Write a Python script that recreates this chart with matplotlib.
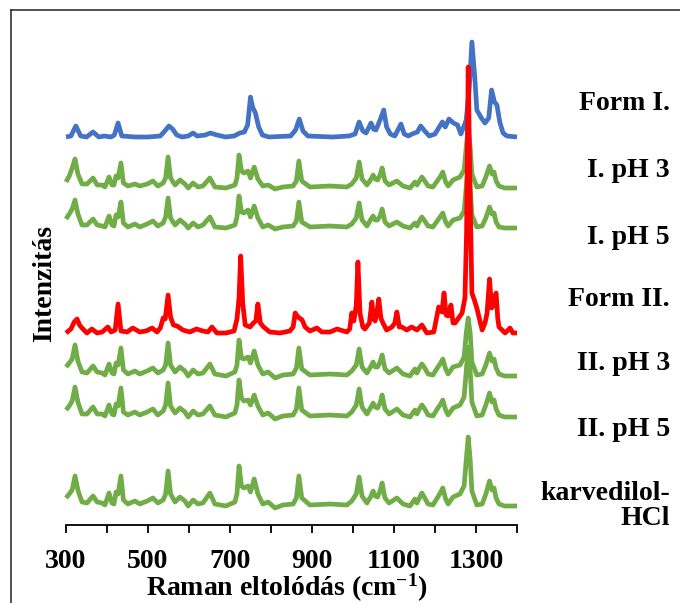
import matplotlib
matplotlib.use('Agg')
import matplotlib.pyplot as plt
from matplotlib.lines import Line2D

# Raman spectra (intensity above each baseline, arbitrary units)
FORM1_WN = [300, 312, 324, 336, 350, 366, 380, 393, 410, 418, 427, 436, 470, 500, 530,
            541, 551, 560, 570, 583, 598, 610, 620, 640, 652, 668, 689, 710, 724, 735,
            743, 750, 755, 762, 770, 779, 795, 848, 860, 869, 878, 890, 950, 990, 1005,
            1015, 1024, 1032, 1044, 1050, 1056, 1066, 1075, 1082, 1091, 1102, 1117, 1125,
            1135, 1144, 1157, 1165, 1175, 1186, 1200, 1218, 1225, 1234, 1245, 1255, 1263,
            1270, 1276, 1283, 1290, 1297, 1302, 1313, 1322, 1331, 1338, 1345, 1351, 1358,
            1366, 1375, 1400]
FORM1 = [0, 1, 11, 1, 0, 5, 0, 1, 0, 2, 14, 1, 0, 0, 1,
         6, 11, 8, 2, 0, 1, 4, 1, 2, 4, 2, 0, 1, 4, 5,
         12, 40, 30, 24, 10, 2, 0, 1, 7, 18, 6, 1, 0, 1, 3,
         15, 6, 4, 14, 8, 7, 17, 27, 10, 3, 1, 13, 3,
         1, 3, 5, 11, 6, 1, 3, 15, 10, 18, 14, 12, 3,
         10, 17, 45, 95, 60, 27, 19, 14, 19, 47, 35, 32, 15,
         4, 1, 0]

FORM2_WN = [300, 312, 320, 327, 333, 339, 351, 363, 376, 388, 402, 410, 420, 427, 434,
            449, 463, 480, 495, 510, 522, 530, 537, 542, 549, 555, 562, 571, 585, 602,
            618, 634, 646, 656, 668, 690, 710, 717, 722, 726, 731, 737, 749, 757, 763,
            768, 774, 782, 797, 822, 846, 854, 859, 866, 876, 883, 895, 912, 924, 944,
            961, 985, 992, 997, 1002, 1008, 1012, 1017, 1024, 1029, 1040, 1046, 1050, 1054,
            1058, 1063, 1068, 1073, 1082, 1095, 1102, 1107, 1113, 1119, 1131, 1143, 1156,
            1168, 1180, 1197, 1209, 1217, 1222, 1227, 1232, 1239, 1244, 1249, 1266, 1273,
            1277, 1281, 1285, 1290, 1296, 1302, 1315, 1322, 1327, 1333, 1338, 1341, 1345,
            1349, 1353, 1356, 1371, 1383, 1390, 1400]
FORM2 = [0, 4, 11, 14, 8, 5, 0, 4, 0, 1, 6, 1, 3, 29, 2,
         1, 5, 1, 2, 5, 1, 5, 15, 14, 38, 16, 8, 7, 3, 1,
         4, 2, 1, 6, 0, 0, 2, 14, 35, 77, 30, 8, 6, 10, 12,
         29, 10, 6, 1, 0, 2, 6, 20, 16, 13, 6, 2, 5, 1, 1,
         4, 1, 4, 20, 12, 28, 71, 20, 6, 4, 10, 31, 14, 12,
         20, 34, 15, 10, 3, 6, 10, 21, 6, 6, 3, 6, 3,
         8, 0, 1, 26, 21, 40, 18, 17, 28, 10, 10, 20, 35,
         100, 266, 150, 40, 33, 25, 3, 10, 20, 54, 25, 27, 35,
         40, 15, 6, 0, 5, 0, 0]

# the green spectra share the same sampling points
GREEN_WN = [300, 308, 315, 322, 329, 339, 351, 366, 376, 388, 395, 405, 412, 417, 422,
            427, 434, 440, 451, 468, 480, 498, 512, 524, 537, 543, 549, 555, 566, 578,
            590, 598, 610, 622, 634, 651, 663, 690, 712, 717, 722, 728, 734, 744, 750,
            759, 768, 780, 793, 810, 829, 854, 862, 868, 875, 895, 944, 985, 997, 1008,
            1015, 1022, 1034, 1044, 1049, 1054, 1060, 1066, 1071, 1078, 1088, 1107, 1122,
            1139, 1151, 1156, 1162, 1168, 1175, 1183, 1195, 1207, 1214, 1219, 1226, 1232,
            1244, 1261, 1271, 1276, 1281, 1286, 1290, 1302, 1315, 1324, 1333, 1339, 1344,
            1349, 1356, 1370, 1400]
I_PH3 = [6, 12, 20, 29, 14, 4, 4, 10, 3, 3, 1, 11, 3, 3, 12, 10, 25, 5, 2, 4,
         2, 4, 7, 2, 5, 10, 31, 10, 3, 8, 4, 0, 5, 1, 2, 10, 1, 0, 3, 10,
         33, 17, 15, 17, 10, 21, 9, 2, 3, -1, 1, 2, 7, 27, 7, 1, 2, 1, 4, 10,
         26, 9, 3, 9, 13, 9, 8, 13, 20, 7, 3, 7, 2, 0, 6, 3, 7, 11, 7, 2,
         1, 8, 12, 16, 6, 2, 8, 11, 18, 40, 60, 40, 14, 1, 2, 11, 22, 14, 16, 7,
         2, 0, 0]
I_PH5 = [9, 14, 19, 28, 14, 3, 3, 9, 3, 2, 1, 12, 3, 2, 13, 11, 26, 5, 1, 4,
         1, 4, 7, 2, 5, 11, 30, 10, 3, 8, 4, 0, 5, 1, 3, 11, 1, 0, 3, 11,
         32, 16, 15, 18, 11, 22, 10, 1, 3, -1, 1, 2, 7, 26, 6, 1, 2, 1, 4, 10,
         25, 8, 2, 9, 12, 8, 8, 12, 19, 6, 2, 6, 2, 0, 5, 2, 7, 11, 7, 2,
         1, 8, 12, 15, 6, 2, 8, 10, 17, 40, 62, 40, 13, 1, 2, 10, 21, 14, 15, 6,
         1, 0, 0]
II_PH3 = [9, 13, 17, 31, 15, 4, 3, 10, 4, 3, 1, 12, 3, 2, 13, 11, 28, 6, 2, 5,
          2, 5, 8, 3, 6, 11, 33, 11, 4, 9, 5, 0, 6, 2, 3, 12, 2, 0, 4, 11,
          36, 18, 17, 19, 13, 25, 11, 2, 4, -2, 1, 2, 8, 28, 7, 1, 2, 1, 5, 11,
          27, 9, 3, 10, 14, 9, 9, 14, 21, 7, 3, 8, 2, 0, 7, 3, 8, 12, 8, 2,
          1, 9, 13, 17, 7, 2, 9, 11, 19, 42, 58, 42, 14, 1, 2, 11, 23, 15, 17, 8,
          2, 0, 0]
II_PH5 = [7, 11, 16, 30, 15, 3, 3, 10, 3, 3, 1, 12, 3, 2, 13, 11, 29, 5, 2, 5,
          2, 5, 8, 2, 6, 12, 34, 11, 4, 9, 5, 0, 6, 2, 3, 11, 2, 0, 4, 12,
          37, 19, 16, 17, 12, 22, 11, 2, 4, -2, 1, 2, 8, 29, 7, 1, 2, 1, 5, 12,
          28, 10, 3, 10, 14, 10, 9, 14, 22, 8, 3, 8, 2, 0, 7, 3, 8, 12, 8, 2,
          1, 9, 13, 17, 7, 2, 9, 12, 20, 45, 70, 45, 15, 1, 2, 12, 24, 15, 17, 8,
          2, 0, 0]
KARV = [8, 12, 16, 30, 16, 4, 3, 10, 4, 3, 1, 13, 3, 2, 14, 12, 30, 6, 2, 5,
        2, 5, 8, 3, 6, 12, 35, 12, 4, 9, 5, 0, 6, 2, 3, 13, 2, 0, 4, 12,
        40, 20, 18, 20, 14, 27, 12, 2, 4, -2, 1, 2, 8, 30, 8, 1, 2, 1, 5, 12,
        29, 10, 3, 10, 15, 10, 9, 15, 23, 8, 3, 8, 2, 0, 7, 3, 8, 13, 8, 2,
        1, 9, 14, 18, 7, 2, 9, 12, 20, 45, 69, 45, 15, 1, 2, 12, 25, 16, 18, 8,
        2, 0, 0]

LABELS = ['Form I.', 'I. pH 3', 'I. pH 5', 'Form II.', 'II. pH 3', 'II. pH 5', 'karvedilol-\nHCl']
XTICK_LABELS = ['300', '500', '700', '900', '1100', '1300']

BLUE = '#4472C4'
GREEN = '#70AD47'
RED = '#FF0000'

plt.rcParams['font.family'] = 'Liberation Serif'
plt.rcParams['font.weight'] = 'bold'
plt.rcParams['mathtext.fontset'] = 'custom'
plt.rcParams['mathtext.rm'] = 'Liberation Serif:bold'
plt.rcParams['mathtext.it'] = 'Liberation Serif:bold'
plt.rcParams['mathtext.bf'] = 'Liberation Serif:bold'

W, H = 680, 603
fig = plt.figure(figsize=(W / 100, H / 100), dpi=100)
ax = fig.add_axes([66 / W, 1 - 525 / H, 451 / W, 495 / H])

# vertical stacking of the spectra (baseline levels)
spectra = [
    (GREEN_WN, I_PH3, 337, GREEN),
    (GREEN_WN, I_PH5, 297, GREEN),
    (GREEN_WN, II_PH3, 149, GREEN),
    (GREEN_WN, II_PH5, 108, GREEN),
    (GREEN_WN, KARV, 19, GREEN),
    (FORM1_WN, FORM1, 388, BLUE),
    (FORM2_WN, FORM2, 192, RED),
]
for wn, inten, base, col in spectra:
    ax.plot(wn, [v + base for v in inten], color=col, lw=3.4,
            solid_joinstyle='round', solid_capstyle='butt', clip_on=False)

ax.set_xlim(300, 1400)
ax.set_ylim(0, 495)
ax.set_xticks(range(300, 1400, 200))
ax.set_xticklabels(XTICK_LABELS)
ax.set_xticks(range(400, 1401, 200), minor=True)
ax.tick_params(axis='x', which='both', direction='out', length=6, width=1.3,
               labelsize=20, pad=11)
ax.set_yticks([])
for s in ['left', 'right', 'top']:
    ax.spines[s].set_visible(False)
ax.spines['bottom'].set_linewidth(1.3)

fig.text(287 / W, 1 - 588 / H, r'Raman eltolódás (cm$^{-1}$)', ha='center', va='center',
         fontsize=20, fontweight='bold')
fig.text(45 / W, 1 - 283 / H, 'Intenzitás', rotation=90, ha='center', va='center',
         fontsize=20, fontweight='bold')

label_y = [103, 170, 237, 299, 364, 430, 506]
for lab, py in zip(LABELS, label_y):
    fig.text(670 / W, 1 - py / H, lab, ha='right', va='center', fontsize=20,
             fontweight='bold', linespacing=0.95)

# outer frame (left and top edges only are inside the picture)
fig.add_artist(Line2D([10.5 / W, 10.5 / W], [0, 1 - 9.5 / H], transform=fig.transFigure,
                      color='#222222', lw=1.1))
fig.add_artist(Line2D([10.5 / W, 1], [1 - 9.5 / H, 1 - 9.5 / H], transform=fig.transFigure,
                      color='#222222', lw=1.1))

fig.savefig('out.png', dpi=100)
